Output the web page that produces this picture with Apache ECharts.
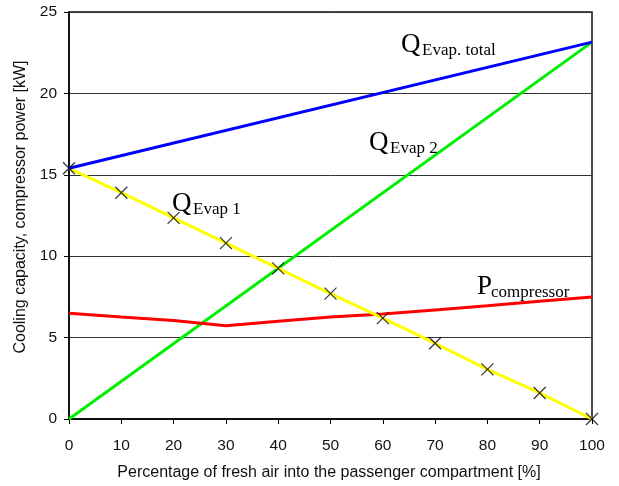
<!DOCTYPE html>
<html>
<head>
<meta charset="utf-8">
<script src="https://cdn.jsdelivr.net/npm/echarts@6/dist/echarts.min.js"></script>
<style>
html,body{margin:0;padding:0;background:#fff;}
#chart{width:619px;height:486px;}
</style>
</head>
<body>
<div id="chart"></div>
<script>
// ---- data ----
const freshAirPct = [0, 10, 20, 30, 40, 50, 60, 70, 80, 90, 100];
const qEvap1 = [15.4, 13.9, 12.35, 10.8, 9.25, 7.7, 6.2, 4.65, 3.05, 1.6, 0];
const pCompressor = [6.5, 6.27, 6.05, 5.73, 6.0, 6.27, 6.45, 6.7, 6.95, 7.23, 7.5];
const qEvap2Pct = [0, 100];
const qEvap2 = [0, 23.15];
const qEvapTotalPct = [0, 100];
const qEvapTotal = [15.4, 23.15];
const yTicks = [0, 5, 10, 15, 20, 25];
const xTicks = [0, 10, 20, 30, 40, 50, 60, 70, 80, 90, 100];

const labels = [
  { main: 'Q', sub: 'Evap. total', x: 401, y: 52 },
  { main: 'Q', sub: 'Evap 2', x: 369, y: 150 },
  { main: 'Q', sub: 'Evap 1', x: 172, y: 211 },
  { main: 'P', sub: 'compressor', x: 477, y: 294 }
];

const pairs = (xs, ys) => xs.map((x, i) => [x, ys[i]]);

const chart = echarts.init(document.getElementById('chart'), null, { renderer: 'canvas' });

const serif = '"Liberation Serif", "Times New Roman", serif';
const sans = '"Liberation Sans", Arial, sans-serif';

const graphics = [];
labels.forEach(l => {
  graphics.push({
    type: 'text', left: l.x, top: l.y - 21, z: 100,
    style: { text: l.main, font: '27px ' + serif, fill: '#000' }
  });
  graphics.push({
    type: 'text', left: l.x + (l.main === 'Q' ? 21 : 14), top: l.y - 10, z: 100,
    style: { text: l.sub, font: '17px ' + serif, fill: '#000' }
  });
});

const option = {
  backgroundColor: '#fff',
  animation: false,
  grid: { left: 69, right: 27, top: 12, bottom: 66, show: true, borderColor: '#111', borderWidth: 1.5, backgroundColor: 'transparent' },
  xAxis: {
    type: 'value', min: xTicks[0], max: xTicks[xTicks.length - 1], interval: 10,
    name: 'Percentage of fresh air into the passenger compartment [%]',
    nameLocation: 'middle', nameGap: 46,
    nameTextStyle: { fontFamily: sans, fontSize: 16, color: '#111', padding: [0, 3, 0, 0] },
    axisLine: { show: true, onZero: false, lineStyle: { color: '#000', width: 1.5 } },
    axisTick: { show: true, length: 5, lineStyle: { color: '#000' } },
    axisLabel: { margin: 19, fontFamily: sans, fontSize: 15.5, color: '#111' },
    splitLine: { show: false }
  },
  yAxis: {
    type: 'value', min: yTicks[0], max: yTicks[yTicks.length - 1], interval: 5,
    name: 'Cooling capacity, compressor power [kW]',
    nameLocation: 'middle', nameGap: 39,
    nameTextStyle: { fontFamily: sans, fontSize: 16, color: '#111', padding: [0, 0, 0, 17] },
    axisLine: { show: true, onZero: false, lineStyle: { color: '#000', width: 1.5 } },
    axisTick: { show: true, length: 5, lineStyle: { color: '#000' } },
    axisLabel: { margin: 12, fontFamily: sans, fontSize: 15.5, color: '#111' },
    splitLine: { show: true, lineStyle: { color: '#333', width: 1 } }
  },
  series: [
    {
      name: 'Q Evap 2', type: 'line', data: pairs(qEvap2Pct, qEvap2),
      symbol: 'none', lineStyle: { color: '#00ee00', width: 3 }, z: 2
    },
    {
      name: 'P compressor', type: 'line', data: pairs(freshAirPct, pCompressor),
      symbol: 'none', lineStyle: { color: '#ff0000', width: 3 }, z: 3
    },
    {
      name: 'Q Evap 1', type: 'line', data: pairs(freshAirPct, qEvap1),
      symbol: 'none', lineStyle: { color: '#ffff00', width: 3 }, z: 4
    },
    {
      name: 'Q Evap total', type: 'line', data: pairs(qEvapTotalPct, qEvapTotal),
      symbol: 'none', lineStyle: { color: '#0000ff', width: 3 }, z: 5
    },
    {
      name: 'Q Evap 1 markers', type: 'scatter', data: pairs(freshAirPct, qEvap1),
      symbol: 'path://M0,0L10,10M10,0L0,10', symbolSize: 12,
      itemStyle: { color: 'none', borderColor: '#000', borderWidth: 1.2 }, z: 6
    }
  ],
  graphic: graphics
};
chart.setOption(option);
</script>
</body>
</html>
